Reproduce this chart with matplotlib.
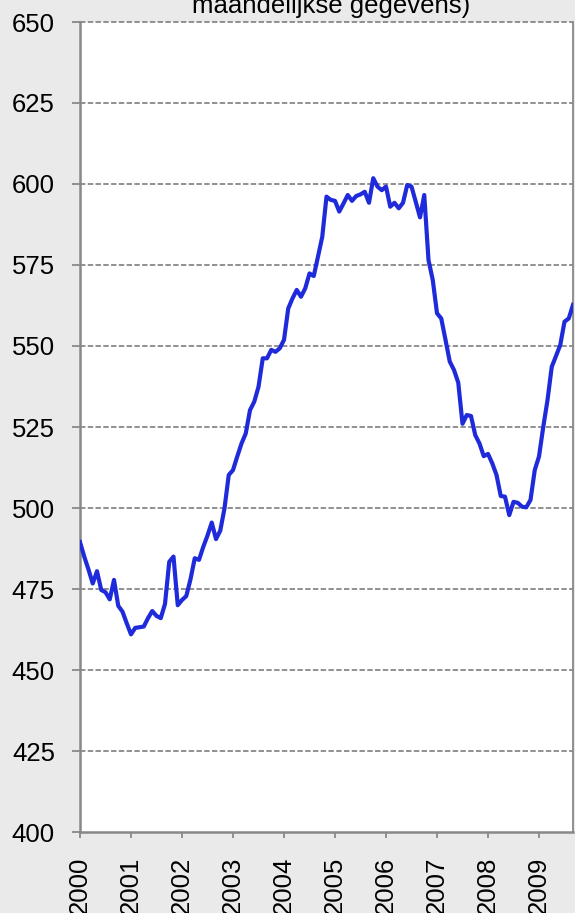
import matplotlib
matplotlib.use("Agg")
import matplotlib.pyplot as plt
import numpy as np

# Monthly values, Jan 2000 .. Sep 2009
values_2000 = [489.5, 485.0, 481.0, 476.7, 480.5, 474.7, 474.0, 471.8, 477.8, 469.8, 468.0, 464.4]
values_2001 = [461.0, 463.0, 463.2, 463.4, 466.0, 468.2, 466.7, 466.0, 470.4, 483.4, 485.0, 470.0]
values_2002 = [471.6, 472.8, 478.0, 484.5, 484.0, 488.0, 491.5, 495.5, 490.4, 493.0, 499.9, 510.2]
values_2003 = [511.7, 515.9, 519.9, 523.0, 530.2, 532.8, 537.4, 546.2, 546.2, 548.8, 548.2, 549.3]
values_2004 = [551.9, 561.6, 564.7, 567.3, 565.2, 567.8, 572.4, 571.6, 577.6, 583.7, 596.1, 595.1]
values_2005 = [594.8, 591.5, 594.0, 596.6, 594.8, 596.3, 596.8, 597.6, 594.2, 601.8, 599.2, 598.1]
values_2006 = [599.2, 593.0, 594.2, 592.5, 594.2, 599.7, 599.2, 594.5, 589.7, 596.6, 576.5, 570.4]
values_2007 = [560.1, 558.5, 551.9, 545.2, 542.6, 538.7, 526.0, 528.7, 528.4, 522.5, 519.9, 516.0]
values_2008 = [516.7, 513.8, 510.2, 503.7, 503.5, 497.8, 501.9, 501.6, 500.4, 500.2, 502.5, 511.7]
values_2009 = [515.9, 525.0, 533.3, 543.6, 546.9, 550.3, 557.5, 558.5, 562.7]

years = ["2000", "2001", "2002", "2003", "2004", "2005", "2006", "2007", "2008", "2009"]
yticks = [400, 425, 450, 475, 500, 525, 550, 575, 600, 625, 650]
title_text = "maandelijkse gegevens)"

values = (values_2000 + values_2001 + values_2002 + values_2003 + values_2004 +
          values_2005 + values_2006 + values_2007 + values_2008 + values_2009)
x = np.arange(len(values))

plt.rcParams['font.family'] = ['Liberation Sans', 'DejaVu Sans']

W, H = 575, 913
fig = plt.figure(figsize=(W / 100, H / 100), dpi=100, facecolor='#EAEAEA')
ax = fig.add_axes([80 / W, 1 - 832 / H, 493 / W, 810 / H])
ax.set_facecolor('white')

grey = '#888888'
for yv in yticks[1:]:
    ax.axhline(yv, color=grey, linewidth=1.3, dashes=(3.0, 1.3), zorder=1, clip_on=False)

ax.plot(x, values, color='#1F2BDB', linewidth=3.0, zorder=3, solid_joinstyle='round')

ax.set_xlim(0, len(values) - 1)
ax.set_ylim(400, 650)
ax.set_yticks(yticks)
ax.set_yticklabels([str(v) for v in yticks], fontsize=18.5)
ax.set_xticks(np.arange(0, len(values), 12))
ax.set_xticklabels(years, rotation=90, fontsize=18.5)

ax.spines['top'].set_visible(False)
ax.spines['left'].set_color(grey)
ax.spines['left'].set_linewidth(1.8)
ax.spines['bottom'].set_color(grey)
ax.spines['bottom'].set_linewidth(1.8)
ax.spines['right'].set_color(grey)
ax.spines['right'].set_linewidth(1.3)

ax.tick_params(axis='y', direction='out', length=6, width=1.3, color=grey, pad=12, labelcolor='black')
ax.tick_params(axis='x', direction='out', length=4.5, width=1.3, color=grey, pad=13, labelcolor='black')

fig.text(331 / W, 1 - 12.5 / H, title_text, ha='center', va='baseline', fontsize=18.5, color='black')

fig.savefig('out.png', dpi=100, facecolor=fig.get_facecolor())
